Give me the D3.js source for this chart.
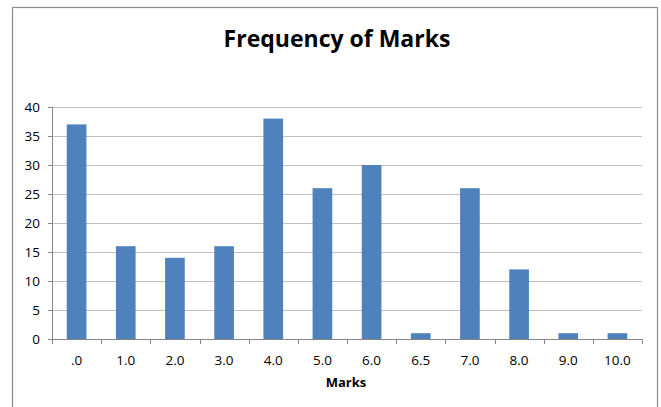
<!DOCTYPE html>
<html>
<head>
<meta charset="utf-8">
<script src="https://cdn.jsdelivr.net/npm/d3@7"></script>
<style>
  body { margin: 0; background: #fff; }
  svg text { font-family: "Open Sans", "Liberation Sans", sans-serif; }
</style>
</head>
<body>
<div id="chart"></div>
<script>
// data
const categories = ['.0', '1.0', '2.0', '3.0', '4.0', '5.0', '6.0', '6.5', '7.0', '8.0', '9.0', '10.0'];
const counts = [37, 16, 14, 16, 38, 26, 30, 1, 26, 12, 1, 1];
const yTicks = [0, 5, 10, 15, 20, 25, 30, 35, 40];

const W = 661, H = 407;
const margin = { top: 107, right: 19, bottom: 68, left: 52 };
const width = W - margin.left - margin.right;
const height = H - margin.top - margin.bottom;

const svg = d3.select('#chart').append('svg')
    .attr('width', W)
    .attr('height', H);

// outer chart border
svg.append('rect')
    .attr('x', 12.5).attr('y', 7.5)
    .attr('width', 645).attr('height', 410)
    .attr('fill', 'none')
    .attr('stroke', '#8c8c8c')
    .attr('stroke-width', 1.2);

// title
svg.append('text')
    .attr('x', 337)
    .attr('y', 47)
    .attr('text-anchor', 'middle')
    .style('font-size', '23px')
    .style('font-weight', 'bold')
    .style('fill', '#000')
    .text('Frequency of Marks');

const g = svg.append('g')
    .attr('transform', `translate(${margin.left},${margin.top})`);

const x = d3.scaleBand()
    .domain(categories)
    .range([0, width])
    .paddingInner(0.6)
    .paddingOuter(0.3);

const y = d3.scaleLinear()
    .domain([0, 40])
    .range([height, 0]);

// gridlines
g.selectAll('.grid')
    .data(yTicks.filter(d => d > 0))
    .enter().append('line')
    .attr('x1', 0).attr('x2', width)
    .attr('y1', d => Math.round(y(d)) + 0.5)
    .attr('y2', d => Math.round(y(d)) + 0.5)
    .style('stroke', '#bfbfbf')
    .style('stroke-width', 1);

// y axis
const yAxis = g.append('g')
    .call(d3.axisLeft(y).tickValues(yTicks).tickSize(4).tickPadding(8));
yAxis.select('.domain').style('stroke', '#868686');
yAxis.selectAll('.tick line').style('stroke', '#868686');
yAxis.selectAll('text').style('font-size', '13.5px').style('fill', '#000');

// bars
g.selectAll('.bar')
    .data(counts)
    .enter().append('rect')
    .attr('x', (d, i) => x(categories[i]))
    .attr('y', d => y(d))
    .attr('width', x.bandwidth())
    .attr('height', d => height - y(d))
    .style('fill', '#4f81bd');

// x axis with ticks between categories
const step = width / categories.length;
const xAxis = g.append('g')
    .attr('transform', `translate(0,${height})`);
xAxis.append('line')
    .attr('x1', 0).attr('x2', width)
    .attr('y1', 0.5).attr('y2', 0.5)
    .style('stroke', '#868686');
xAxis.selectAll('.xtick')
    .data(d3.range(categories.length + 1))
    .enter().append('line')
    .attr('x1', i => Math.round(i * step) + 0.5)
    .attr('x2', i => Math.round(i * step) + 0.5)
    .attr('y1', 0).attr('y2', 5)
    .style('stroke', '#868686');
xAxis.selectAll('.xlabel')
    .data(categories)
    .enter().append('text')
    .attr('x', d => x(d) + x.bandwidth() / 2)
    .attr('y', 26)
    .attr('text-anchor', 'middle')
    .style('font-size', '13.5px')
    .style('fill', '#000')
    .text(d => d);

// x axis title
svg.append('text')
    .attr('x', 346)
    .attr('y', 387)
    .attr('text-anchor', 'middle')
    .style('font-size', '13px')
    .style('font-weight', 'bold')
    .style('fill', '#000')
    .text('Marks');
</script>
</body>
</html>
